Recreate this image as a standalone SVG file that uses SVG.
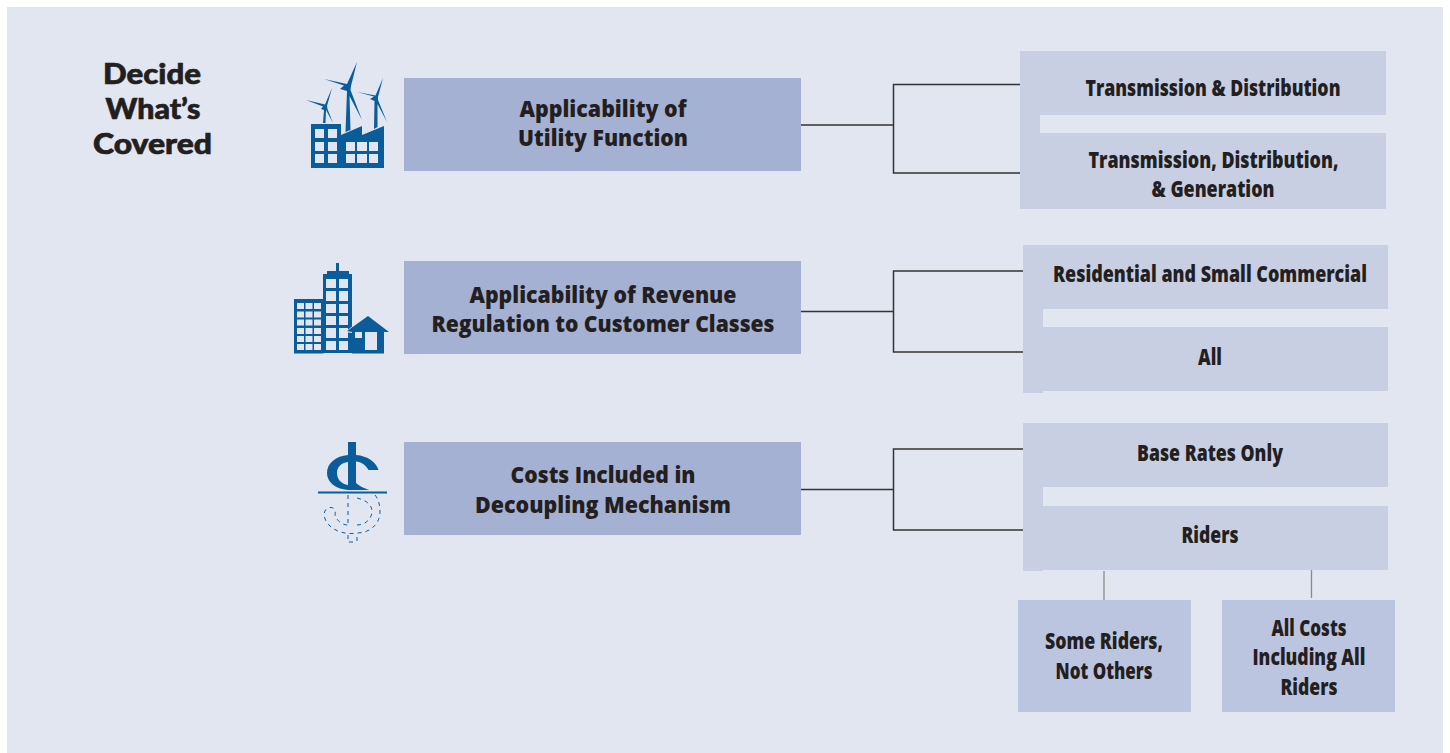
<svg xmlns="http://www.w3.org/2000/svg" width="1450" height="753" viewBox="0 0 1450 753">
<style>
.t{font-family:"Open Sans","Liberation Sans",sans-serif;font-weight:800;font-size:23px;fill:#231f20;text-anchor:middle}
.h{font-family:Lato,"Liberation Sans",sans-serif;font-weight:900;font-size:29px;fill:#231f20;stroke:#231f20;stroke-width:.7;text-anchor:middle}
.a{fill:#a5b1d2}.b{fill:#c8cfe3}.c{fill:#bcc5e0}.bg{fill:#e1e6f1}
.i{fill:#0b5c9b}.w{fill:#e1e6f1}
.l{fill:none;stroke:#333335;stroke-width:1.5}
.g{fill:none;stroke:#8e8a8c;stroke-width:1.3}
.d{fill:none;stroke:#0b5c9b;stroke-width:1;stroke-dasharray:4 4}
</style>
<rect width="1450" height="753" fill="#fff"/>
<rect class="bg" x="7" y="7" width="1436" height="746"/>
<g id="connectors">
<path class="l" d="M801 125H893.500V84.500H1020M893.500 125V173H1020"/>
<path class="l" d="M801 311.500H893.500V271H1023M893.500 311.500V352H1023"/>
<path class="l" d="M801 489.500H893.500V449H1023M893.500 489.500V530H1023"/>
<path class="g" d="M1104 571V600M1311.500 570V598"/>
</g>
<g id="title">
<text class="h" x="152" y="83.500" textLength="98" lengthAdjust="spacingAndGlyphs">Decide</text>
<text class="h" x="153" y="118.500" textLength="95" lengthAdjust="spacingAndGlyphs">What’s</text>
<text class="h" x="152.500" y="153.500" textLength="119" lengthAdjust="spacingAndGlyphs">Covered</text>
</g>
<g id="icon-wind">
<path class="i" d="M311 124H341V135L362 126V135L384 126V168H311Z"/>
<g class="w"><rect x="315" y="129" width="9" height="9"/><rect x="328" y="129" width="9" height="9"/><rect x="315" y="142" width="9" height="9"/><rect x="328" y="142" width="9" height="9"/><rect x="315" y="154" width="9" height="9"/><rect x="328" y="154" width="9" height="9"/><rect x="346" y="142" width="9" height="9"/><rect x="357" y="142" width="10" height="9"/><rect x="369" y="142" width="9" height="9"/><rect x="346" y="154" width="9" height="9"/><rect x="357" y="154" width="10" height="9"/><rect x="369" y="154" width="9" height="9"/></g>
<path class="i" d="M323 123L324 110L321 109L323 106.500L306 100L325 104.500L332 88L327 106L327.500 109L333 123L326 110L325.500 123Z"/>
<path class="i" d="M345.500 132L347 91L340 89L344 85.500L324 79L347 84L357 62L351 86L350.500 90L362 120L349.500 96L350.500 130Z"/>
<path class="i" d="M374 129L374.500 101L370 99L374 96.500L357 92L375.500 95.500L383 78L378 97L378 100L387 122L377.500 104L377.500 127Z"/>
</g>
<g id="icon-buildings">
<rect class="i" x="294" y="299" width="29.500" height="54.500"/>
<g class="w"><rect x="297" y="303" width="7" height="6"/><rect x="305.500" y="303" width="7" height="6"/><rect x="314" y="303" width="7" height="6"/><rect x="297" y="311.500" width="7" height="6"/><rect x="305.500" y="311.500" width="7" height="6"/><rect x="314" y="311.500" width="7" height="6"/><rect x="297" y="319.500" width="7" height="6"/><rect x="305.500" y="319.500" width="7" height="6"/><rect x="314" y="319.500" width="7" height="6"/><rect x="297" y="328" width="7" height="6"/><rect x="305.500" y="328" width="7" height="6"/><rect x="314" y="328" width="7" height="6"/><rect x="297" y="336" width="7" height="6"/><rect x="305.500" y="336" width="7" height="6"/><rect x="314" y="336" width="7" height="6"/><rect x="297" y="344" width="7" height="6"/><rect x="305.500" y="344" width="7" height="6"/><rect x="314" y="344" width="7" height="6"/></g>
<path class="i" d="M323 353V274H327V271H336V263H339V271H349V274H352V353Z"/>
<g class="w"><rect x="326" y="279" width="10" height="9"/><rect x="339" y="279" width="9" height="9"/><rect x="326" y="291" width="10" height="10"/><rect x="339" y="291" width="9" height="10"/><rect x="326" y="304" width="10" height="9"/><rect x="339" y="304" width="9" height="9"/><rect x="326" y="316" width="10" height="9"/><rect x="339" y="316" width="9" height="9"/><rect x="326" y="328" width="10" height="10"/><rect x="339" y="328" width="9" height="10"/><rect x="326" y="341" width="10" height="9"/><rect x="339" y="341" width="9" height="9"/></g>
<path class="w" d="M345 332L368 314L392 333H386V353H352V333Z"/>
<path class="i" d="M347 331L368 316L389 332H384V353.500H352V332Z"/>
<rect class="w" x="355" y="332" width="7" height="6"/><rect class="w" x="365" y="332" width="12" height="18"/>
</g>
<g id="icon-cent">
<path class="i" d="M348 442H356V455C368 456 376 462 378.500 470H368.500C366 465 361 462 356 461.500V483C359 486 364 488 369 490H348C335 489 327 482 327 473C327 463 336 456 348 455ZM348 462C341 463 337 467 337 473C337 479 341 484 348 485Z"/>
<rect class="i" x="318" y="491.500" width="69" height="2"/>
<path class="d" d="M348 495V527M348 535V542H357M357 541V535M357 498C366 500 372 505 372 511C372 519 365 525 357 525M375 495C379 500 380 506 380 512C380 522 372 533 357 533C345 535 334 531 328 524C323 518 323 510 328 508C334 506 336 510 335 515C337 521 342 525 348 525"/>
</g>
<g id="n1"><rect class="a" x="404" y="78" width="397" height="93"/>
<text class="t" x="603" y="117" textLength="167" lengthAdjust="spacingAndGlyphs">Applicability of</text>
<text class="t" x="603" y="146" textLength="170" lengthAdjust="spacingAndGlyphs">Utility Function</text></g>
<g id="n2"><rect class="a" x="404" y="261" width="397" height="93"/>
<text class="t" x="603" y="303" textLength="267" lengthAdjust="spacingAndGlyphs">Applicability of Revenue</text>
<text class="t" x="603" y="332" textLength="343" lengthAdjust="spacingAndGlyphs">Regulation to Customer Classes</text></g>
<g id="n3"><rect class="a" x="404" y="442" width="397" height="93"/>
<text class="t" x="603" y="483" textLength="185" lengthAdjust="spacingAndGlyphs">Costs Included in</text>
<text class="t" x="603" y="513" textLength="256" lengthAdjust="spacingAndGlyphs">Decoupling Mechanism</text></g>
<g id="o1a"><path class="b" d="M1020 51H1386V115H1040V133H1020Z"/>
<text class="t" x="1213" y="96" textLength="255" lengthAdjust="spacingAndGlyphs">Transmission &amp; Distribution</text></g>
<g id="o1b"><path class="b" d="M1020 133H1386V209H1020Z"/>
<text class="t" x="1213.500" y="168" textLength="250" lengthAdjust="spacingAndGlyphs">Transmission, Distribution,</text>
<text class="t" x="1213" y="197" textLength="123" lengthAdjust="spacingAndGlyphs">&amp; Generation</text></g>
<g id="o2a"><path class="b" d="M1023 245H1388V309H1043V327H1023Z"/>
<text class="t" x="1210" y="282" textLength="314" lengthAdjust="spacingAndGlyphs">Residential and Small Commercial</text></g>
<g id="o2b"><path class="b" d="M1023 327H1388V391H1043V393H1023Z"/>
<text class="t" x="1210" y="365" textLength="24" lengthAdjust="spacingAndGlyphs">All</text></g>
<g id="o3a"><path class="b" d="M1023 423H1388V487H1043V506H1023Z"/>
<text class="t" x="1210" y="461" textLength="146" lengthAdjust="spacingAndGlyphs">Base Rates Only</text></g>
<g id="o3b"><path class="b" d="M1023 506H1388V570H1043V571H1023Z"/>
<text class="t" x="1210" y="543" textLength="57" lengthAdjust="spacingAndGlyphs">Riders</text></g>
<g id="o3c"><rect class="c" x="1018" y="600" width="173" height="112"/>
<text class="t" x="1104" y="649" textLength="118" lengthAdjust="spacingAndGlyphs">Some Riders,</text>
<text class="t" x="1104" y="679" textLength="97" lengthAdjust="spacingAndGlyphs">Not Others</text></g>
<g id="o3d"><rect class="c" x="1222" y="600" width="173" height="112"/>
<text class="t" x="1309" y="636" textLength="75" lengthAdjust="spacingAndGlyphs">All Costs</text>
<text class="t" x="1309" y="665" textLength="113" lengthAdjust="spacingAndGlyphs">Including All</text>
<text class="t" x="1309" y="695" textLength="57" lengthAdjust="spacingAndGlyphs">Riders</text></g>
</svg>
